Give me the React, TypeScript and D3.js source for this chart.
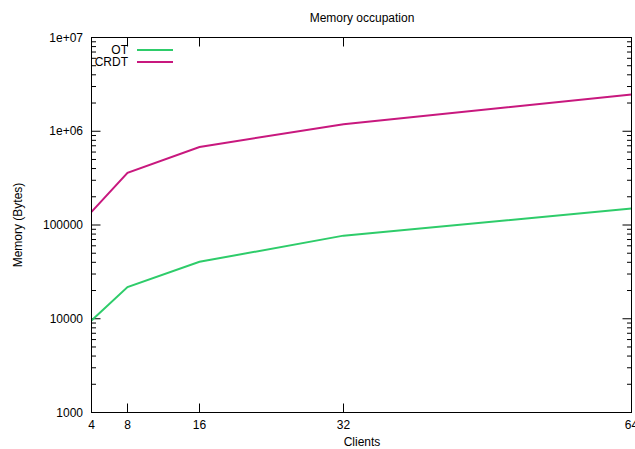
import React from "react";
import * as d3 from "d3";

const clients = [4, 8, 16, 32, 64];
const otValues = [9600, 21800, 40500, 77000, 150000];
const crdtValues = [138000, 360000, 680000, 1190000, 2470000];
const xTicks = [4, 8, 16, 32, 64];
const yTicks = [1000, 10000, 100000, 1000000, 10000000];
const yTickLabels = ["1000", "10000", "100000", "1e+06", "1e+07"];
const seriesNames = ["OT", "CRDT"];
const seriesColors = ["#2ecc6a", "#c8187e"];

const W = 635;
const H = 449;
const left = 91.5;
const right = 631.5;
const top = 37.5;
const bottom = 412.5;

export default function App() {
  const x = d3.scaleLinear().domain([4, 64]).range([left, right]);
  const y = d3.scaleLog().domain([1000, 1e7]).range([bottom, top]);
  const line = d3
    .line<number>()
    .x((_, i) => x(clients[i]))
    .y((d) => y(d));
  const series = [otValues, crdtValues];

  const minor: number[] = [];
  for (let e = 3; e < 7; e++) {
    for (let m = 2; m <= 9; m++) minor.push(m * Math.pow(10, e));
  }
  const font = "'Liberation Sans', Arial, sans-serif";

  return (
    <svg
      width={W}
      height={H}
      style={{ position: "absolute", left: 0, top: 0, background: "#fff" }}
      fontFamily={font}
      fontSize={12}
    >
      <rect width={W} height={H} fill="#fff" />
      <text x={362} y={22} textAnchor="middle">
        Memory occupation
      </text>
      {yTicks.map((t, i) => (
        <g key={"y" + t}>
          <line x1={left} x2={left + 9} y1={y(t)} y2={y(t)} stroke="#000" />
          <line x1={right} x2={right - 9} y1={y(t)} y2={y(t)} stroke="#000" />
          <text x={83} y={y(t) + 4} textAnchor="end">
            {yTickLabels[i]}
          </text>
        </g>
      ))}
      {minor.map((t) => (
        <g key={"m" + t}>
          <line x1={left} x2={left + 4.5} y1={y(t)} y2={y(t)} stroke="#000" />
          <line x1={right} x2={right - 4.5} y1={y(t)} y2={y(t)} stroke="#000" />
        </g>
      ))}
      {xTicks.map((t) => (
        <g key={"x" + t}>
          <line x1={x(t)} x2={x(t)} y1={bottom} y2={bottom - 9} stroke="#000" />
          <line x1={x(t)} x2={x(t)} y1={top} y2={top + 9} stroke="#000" />
          <text x={x(t)} y={429} textAnchor="middle">
            {t}
          </text>
        </g>
      ))}
      <text x={362} y={446} textAnchor="middle">
        Clients
      </text>
      <text
        transform={`translate(22,${(top + bottom) / 2}) rotate(-90)`}
        textAnchor="middle"
      >
        Memory (Bytes)
      </text>
      {series.map((s, i) => (
        <path
          key={seriesNames[i]}
          d={line(s) || ""}
          fill="none"
          stroke={seriesColors[i]}
          strokeWidth={2}
        />
      ))}
      {seriesNames.map((n, i) => (
        <g key={"lg" + n}>
          <text x={128} y={54 + i * 12} textAnchor="end">
            {n}
          </text>
          <line
            x1={137}
            x2={173}
            y1={50 + i * 12}
            y2={50 + i * 12}
            stroke={seriesColors[i]}
            strokeWidth={2}
          />
        </g>
      ))}
      <rect
        x={left}
        y={top}
        width={right - left}
        height={bottom - top}
        fill="none"
        stroke="#000"
        strokeWidth={1}
      />
    </svg>
  );
}
